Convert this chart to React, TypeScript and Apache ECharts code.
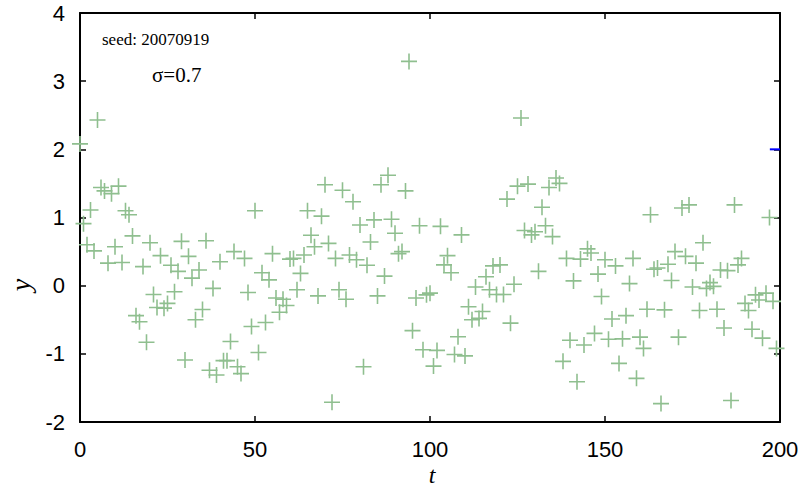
import React, { useEffect, useRef } from "react";
import * as echarts from "echarts";

// y value for each sample t = 0, 1, 2, ..., 199
const yValues: number[] = [
  2.08, 0.91, 0.6, 1.11, 0.51, 2.43, 1.44, 1.39, 0.33, 1.35,
  0.57, 1.46, 0.34, 1.1, 1.04, 0.73, -0.44, -0.53, 0.28, -0.83,
  0.63, -0.13, -0.32, 0.44, -0.33, -0.26, 0.3, -0.09, 0.21, 0.65,
  -1.09, 0.43, 0.11, -0.5, 0.23, -0.35, 0.66, -1.24, -0.04, -1.31,
  0.35, -1.1, -1.1, -0.82, 0.5, -1.19, -1.29, 0.4, -0.1, -0.6,
  1.1, -0.98, 0.19, -0.54, 0.085, 0.47, -0.18, -0.39, -0.2, -0.29,
  0.39, 0.4, -0.06, 0.18, 0.45, 1.1, 0.74, 0.57, -0.15, 1.02,
  1.48, 0.62, -1.71, 0.4, -0.06, 1.4, -0.2, 0.45, 1.23, 0.38,
  0.89, -1.19, 0.3, 0.64, 0.965, -0.15, 1.48, 0.14, 1.62, 0.975,
  0.77, 0.47, 0.5, 1.39, 3.29, -0.66, -0.18, 0.88, -0.94, -0.135,
  -0.11, -1.18, -0.95, 0.87, 0.305, 0.44, 0.19, -1.01, -0.75, 0.745,
  -1.03, -0.31, -0.5, -0.02, -0.48, -0.38, 0.13, -0.06, 0.29, -0.13,
  0.305, -0.13, 1.27, -0.55, 0.02, 1.46, 2.46, 0.81, 1.49, 0.745,
  0.79, 0.21, 1.15, 0.88, 1.44, 0.72, 1.58, 1.5, -1.11, 0.4,
  -0.8, 0.07, -1.41, 0.39, -0.87, 0.54, 0.48, -0.7, 0.17, -0.16,
  0.38, -0.785, -0.49, 0.29, -1.14, -0.78, -0.44, 0.03, 0.4, -1.36,
  -0.755, -0.92, -0.345, 1.04, 0.24, 0.26, -1.73, -0.355, 0.315, 0.075,
  0.5, -0.755, 1.14, 0.43, 1.185, -0.02, 0.33, -0.365, 0.63, -0.04,
  0.045, -0.01, -0.345, 0.23, -0.62, 0.22, -1.685, 1.185, 0.305, 0.4,
  -0.26, -0.365, -0.64, -0.135, -0.21, -0.77, -0.11, 1.0, -0.23, -0.92,
];

// short blue segment at the right edge (level y = 2)
const blueSegmentT: number[] = [197.1, 200];
const blueSegmentY: number[] = [2, 2];

const xTicks = { min: 0, max: 200, interval: 50 };
const yTicks = { min: -2, max: 4, interval: 1 };

const seedLabel = "seed: 20070919";
const sigmaLabel = "σ=0.7";
const xName = "t";
const yName = "y";

const PLUS = "path://M7.2,0h1.6v16h-1.6zM0,7.2h16v1.6h-16z";

export default function App() {
  const ref = useRef<HTMLDivElement>(null);

  useEffect(() => {
    if (!ref.current) return;
    const chart = echarts.init(ref.current, undefined, { renderer: "svg" });

    const points = yValues.map((y, i) => [i, y]);
    const blue = blueSegmentT.map((t, i) => [t, blueSegmentY[i]]);

    const axisLine = { show: true, onZero: false, lineStyle: { color: "#000", width: 2 } };
    const ticks = { show: true, inside: true, length: 6, lineStyle: { color: "#000", width: 1.5 } };
    const tickFont = { color: "#000", fontSize: 22, fontFamily: "Liberation Sans, Arial, sans-serif" };

    chart.setOption({
      animation: false,
      backgroundColor: "#fff",
      grid: { left: 80, right: 26, top: 13, bottom: 76, containLabel: false },
      xAxis: [
        {
          type: "value",
          position: "bottom",
          ...xTicks,
          axisLine,
          axisTick: ticks,
          splitLine: { show: false },
          axisLabel: { ...tickFont, margin: 16 },
        },
        {
          type: "value",
          position: "top",
          ...xTicks,
          axisLine,
          axisTick: ticks,
          splitLine: { show: false },
          axisLabel: { show: false },
        },
      ],
      yAxis: [
        {
          type: "value",
          position: "left",
          ...yTicks,
          axisLine,
          axisTick: ticks,
          splitLine: { show: false },
          axisLabel: { ...tickFont, margin: 15 },
        },
        {
          type: "value",
          position: "right",
          ...yTicks,
          axisLine,
          axisTick: ticks,
          splitLine: { show: false },
          axisLabel: { show: false },
        },
      ],
      series: [
        {
          type: "scatter",
          xAxisIndex: 0,
          yAxisIndex: 0,
          data: points,
          symbol: PLUS,
          symbolSize: 16,
          itemStyle: { color: "#8fbf8f", opacity: 1 },
          clip: false,
          z: 2,
        },
        {
          type: "line",
          xAxisIndex: 0,
          yAxisIndex: 0,
          data: blue,
          showSymbol: false,
          lineStyle: { color: "#0000ff", width: 2 },
          z: 3,
        },
      ],
      graphic: [
        {
          type: "text",
          left: 102,
          top: 31,
          style: {
            text: seedLabel,
            font: "17px 'Liberation Serif', 'Times New Roman', serif",
            fill: "#000",
          },
        },
        {
          type: "text",
          left: 152,
          top: 64,
          style: {
            text: sigmaLabel,
            font: "21px 'Liberation Serif', 'Times New Roman', serif",
            fill: "#000",
          },
        },
        {
          type: "text",
          x: 20,
          y: 285,
          rotation: Math.PI / 2,
          style: {
            text: yName,
            font: "italic 28px 'Liberation Serif', 'Times New Roman', serif",
            fill: "#000",
            align: "center",
            verticalAlign: "middle",
          },
        },
        {
          type: "text",
          x: 432,
          y: 475,
          style: {
            text: xName,
            font: "italic 24px 'Liberation Serif', 'Times New Roman', serif",
            fill: "#000",
            align: "center",
            verticalAlign: "middle",
          },
        },
      ],
    });

    return () => chart.dispose();
  }, []);

  return (
    <div
      ref={ref}
      style={{ position: "absolute", left: 0, top: 0, width: 806, height: 498 }}
    />
  );
}
